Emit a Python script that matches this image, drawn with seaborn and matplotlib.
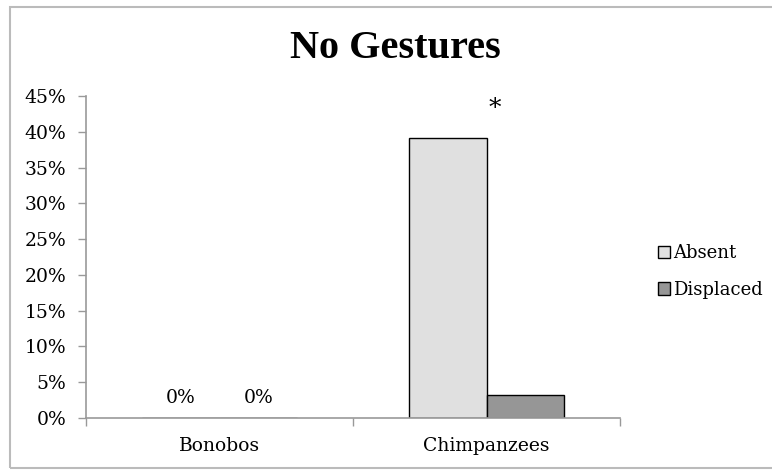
import matplotlib
matplotlib.use("Agg")
import matplotlib.pyplot as plt
import seaborn as sns
import pandas as pd
from matplotlib.patches import Rectangle
from matplotlib.ticker import PercentFormatter

# data
species = ["Bonobos", "Chimpanzees"]
conditions = ["Absent", "Displaced"]
absent_vals = [0.0, 39.1]
displaced_vals = [0.0, 3.2]
y_ticks = list(range(0, 50, 5))

df = pd.DataFrame({
    "species": species * 2,
    "condition": [conditions[0]] * 2 + [conditions[1]] * 2,
    "value": absent_vals + displaced_vals,
})

sns.set_theme(style="white")
plt.rcParams["font.family"] = ["DejaVu Serif"]
plt.rcParams["text.color"] = "black"
plt.rcParams["xtick.color"] = "black"
plt.rcParams["ytick.color"] = "black"
fs = 13.5

fig = plt.figure(figsize=(7.72, 4.70), dpi=100)
ax = fig.add_axes([86 / 772, 52 / 470, 534 / 772, 322 / 470])

sns.barplot(data=df, x="species", y="value", hue="condition",
            palette=["#e0e0e0", "#969696"], edgecolor="black", linewidth=1.0,
            width=0.58, ax=ax, legend=True)

ax.set_ylim(0, 45)
ax.set_xlim(-0.5, 1.5)
ax.set_yticks(y_ticks)
ax.yaxis.set_major_formatter(PercentFormatter(decimals=0))
ax.set_xlabel("")
ax.set_ylabel("")

# ticks between categories, labels centred
ax.set_xticks([0, 1])
ax.set_xticks([-0.5, 0.5, 1.5], minor=True)
ax.tick_params(axis="x", which="major", length=0, pad=14, labelsize=fs, labelcolor="black")
ax.tick_params(axis="x", which="minor", length=6, color="#999999", width=1, direction="out", bottom=True)
ax.tick_params(axis="y", length=6, color="#999999", width=1, direction="out", left=True,
               labelsize=fs, labelcolor="black", pad=8)

for side in ["top", "right"]:
    ax.spines[side].set_visible(False)
for side in ["left", "bottom"]:
    ax.spines[side].set_color("#999999")
    ax.spines[side].set_linewidth(1.2)

# 0% labels over the empty Bonobos bars
for cont in ax.containers:
    labels = ["0%" if v == 0 else "" for v in cont.datavalues]
    ax.bar_label(cont, labels=labels, padding=8, fontsize=fs, color="black")

# significance star
ax.text(1.03, 43.3, "*", ha="center", va="center", fontsize=18, color="black")

leg = ax.legend(title=None, frameon=False, loc="center left", bbox_to_anchor=(1.04, 0.455),
                fontsize=13, handlelength=0.7, handleheight=0.7, handletextpad=0.15,
                labelspacing=1.0)
for t in leg.get_texts():
    t.set_color("black")

fig.text(0.512, 0.897, "No Gestures", ha="center", va="center",
         fontsize=29, fontweight="bold", family="Liberation Serif", color="black")

# light grey frame around the whole chart
fig.patches.append(Rectangle((10 / 772, 2 / 470), 770 / 772, 461 / 470,
                             transform=fig.transFigure, fill=False,
                             edgecolor="#bbbbbb", linewidth=1.5))

fig.savefig("out.png", dpi=100)
